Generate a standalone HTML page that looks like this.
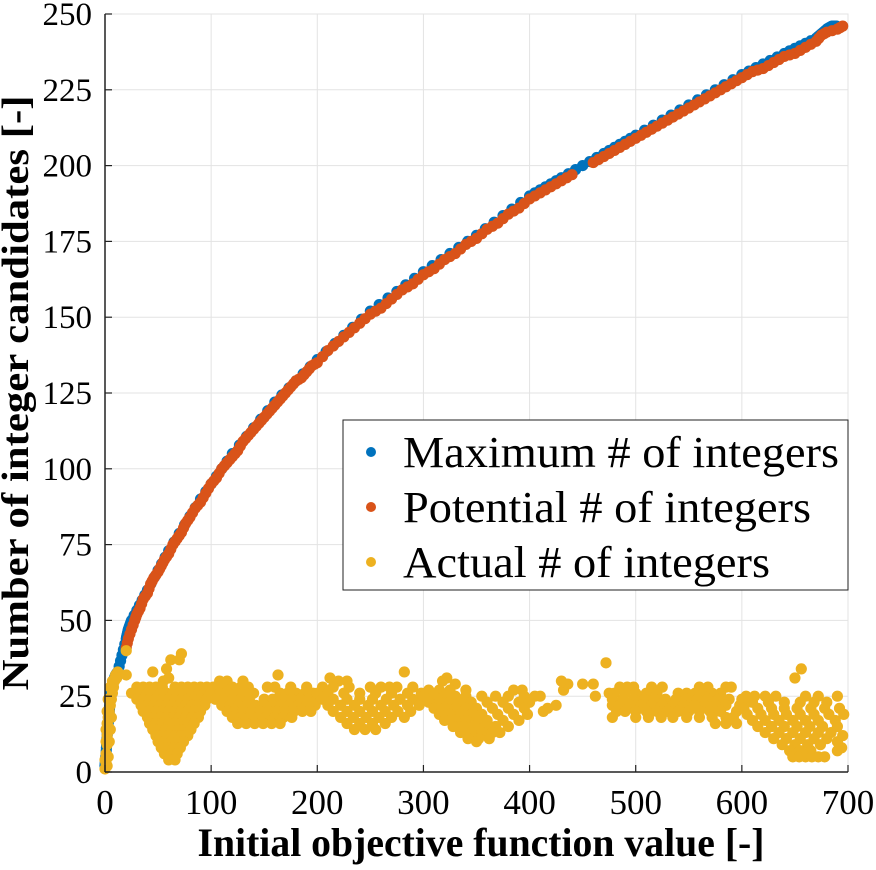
<!DOCTYPE html>
<html><head><meta charset="utf-8"><style>
html,body{margin:0;padding:0;background:#fff;}
svg{display:block;font-family:"Liberation Serif",serif;}
</style></head><body>
<svg id="chart" width="876" height="870" viewBox="0 0 876 870">
<g id="grid"></g>
<g id="marks"></g>
<g id="axes"></g>
<text x="481" y="856" text-anchor="middle" font-size="40" font-weight="bold" textLength="567" lengthAdjust="spacingAndGlyphs">Initial objective function value [-]</text>
<text transform="translate(28,393) rotate(-90)" text-anchor="middle" font-size="38" font-weight="bold" textLength="595" lengthAdjust="spacingAndGlyphs">Number of integer candidates [-]</text>
<g>
<rect x="343" y="420" width="505" height="170" fill="#fff" stroke="#222" stroke-width="1"/>
<g><circle cx="371" cy="452" r="5" fill="#0072BD"/><text x="403" y="467" font-size="44" textLength="436" lengthAdjust="spacingAndGlyphs">Maximum # of integers</text></g>
<g><circle cx="371" cy="507" r="5" fill="#D95319"/><text x="403" y="522" font-size="44" textLength="408" lengthAdjust="spacingAndGlyphs">Potential # of integers</text></g>
<g><circle cx="371" cy="562" r="5" fill="#EDB120"/><text x="403" y="577" font-size="44" textLength="367" lengthAdjust="spacingAndGlyphs">Actual # of integers</text></g>
</g>
</svg>
<script>
const xTicks=[0,100,200,300,400,500,600,700];
const yTicks=[0,25,50,75,100,125,150,175,200,225,250];
const redX=[20,22,25,28,30,33,36,40,43,46,50,53,56,60,64,68,72,76,80,85,90,95,100,105,110,115,120,125,130,135,140,145,150,155,160,165,170,175,180,185,190,195,200,210,220,230,240,250,260,270,280,290,300,310,320,330,340,350,360,370,380,390,400,410,420,430,440,460,470,480,490,500,510,520,530,540,550,560,570,580,590,600,610,620,630,640,650,660,670,675,680,690,695];
const redY=[41,44,47,50,52,54,57,59,62,64,66,68,70,72,75,77,79,82,84,87,89,92,95,97,100,102,104,106,109,111,113,115,117,119,121,123,125,127,129,130,132,134,135,139,142,145,148,151,153,156,159,161,164,166,169,171,174,176,179,181,184,186,189,191,193,195,197,201,203,205,207,209,211,213,215,217,219,221,223,225,227,229,231,232,234,236,237,239,241,243,244,245,246];
const blueX=[0,1,2,3,4,5,6,8,10,12,20,22,25,40,60,90,120,160,200,250,300,350,400,430,470,500,550,600,640,670,680,685,690];
const blueY=[2,6,12,16,20,24,27,30,32,33,44,47,50,60,73,90,105,122,136,152,165,177,190,196,204,210,220,230,237,242,245,246,246];
const yellow=[[0,1],[1,3],[1,6],[2,9],[2,12],[3,15],[3,18],[4,20],[5,22],[6,24],[7,26],[8,28],[9,30],[10,32],[12,33],[2,2],[3,5],[4,10],[5,14],[6,18],[1,10],[2,16],[4,24],[7,30],[0,4],[1,14],[2,20],[3,24],[5,28],[11,31],
[20,40],[20,32],[25,26],[45,33],[62,37],[58,34],[72,39],[70,37],[60,31],[55,30],
[30,28],[36,28],[42,28],[48,28],[54,28],[66,28],[72,28],[78,28],[84,28],[90,28],[96,28],[102,28],
[28,26],[34,26],[40,26],[46,26],[52,26],[58,26],[64,26],[70,26],[76,26],[82,26],[88,26],[94,26],[100,26],
[30,24],[36,24],[42,24],[48,24],[54,24],[60,24],[66,24],[72,24],[78,24],[84,24],[90,24],[96,24],
[34,22],[40,22],[46,22],[52,22],[58,22],[64,22],[70,22],[76,22],[82,22],[88,22],[94,22],
[36,20],[42,20],[48,20],[54,20],[60,20],[66,20],[72,20],[78,20],[84,20],[90,20],
[40,18],[46,18],[52,18],[58,18],[64,18],[70,18],[76,18],[82,18],[88,18],
[42,16],[48,16],[54,16],[60,16],[66,16],[72,16],[78,16],[84,16],
[45,14],[51,14],[57,14],[63,14],[69,14],[75,14],[81,14],
[48,12],[54,12],[60,12],[66,12],[72,12],[78,12],
[50,10],[56,10],[62,10],[68,10],[74,10],[53,8],[59,8],[65,8],[71,8],[56,6],[62,6],[68,6],[60,4],[66,4],
[108,30],[115,30],[130,30],[105,28],[112,28],[120,28],[128,28],[135,28],[160,28],[175,28],[190,28],
[100,26],[108,26],[116,26],[124,26],[132,26],[140,26],[165,26],[172,26],[180,26],[188,26],[196,26],
[104,24],[112,24],[120,24],[128,24],[136,24],[150,24],[158,24],[168,24],[176,24],[184,24],[192,24],[200,24],
[110,22],[118,22],[126,22],[134,22],[142,22],[150,22],[158,22],[166,22],[174,22],[182,22],[190,22],[198,22],
[115,20],[122,20],[130,20],[138,20],[146,20],[154,20],[162,20],[170,20],[178,20],[186,20],[194,20],
[120,18],[128,18],[136,18],[144,18],[152,18],[160,18],[168,18],[176,18],[125,16],[133,16],[141,16],[149,16],[157,16],[165,16],
[153,28],[163,32],[212,31],[220,30],[228,30],
[205,28],[215,28],[230,28],[250,28],[260,28],[275,28],[290,28],[200,26],[210,26],[225,26],[240,26],[255,26],[270,26],[285,26],[298,26],
[205,24],[215,24],[228,24],[240,24],[252,24],[265,24],[278,24],[290,24],[300,24],[210,22],[222,22],[235,22],[248,22],[260,22],[272,22],[285,22],[296,22],
[215,20],[228,20],[240,20],[252,20],[264,20],[276,20],[288,20],[222,18],[234,18],[246,18],[258,18],[270,18],[282,18],[228,16],[240,16],[252,16],[264,16],[235,14],[245,14],[255,14],[268,28],[282,33],
[318,30],[322,31],[330,29],[305,27],[315,27],[325,27],[340,27],[385,27],[393,27],
[300,25],[310,25],[320,25],[330,25],[340,25],[355,25],[368,25],[380,25],[395,25],[405,25],
[305,23],[315,23],[325,23],[335,23],[345,23],[360,23],[375,23],[390,23],[400,23],
[310,21],[320,21],[330,21],[340,21],[350,21],[365,21],[380,21],[395,21],
[315,19],[325,19],[335,19],[345,19],[355,19],[370,19],[385,19],[398,19],
[320,17],[330,17],[340,17],[350,17],[360,17],[375,17],[390,17],[328,15],[338,15],[348,15],[358,15],[368,15],[380,15],
[335,13],[345,13],[355,13],[365,13],[372,13],[342,11],[352,11],[362,11],[350,10],
[410,25],[413,20],[417,21],[425,22],[432,27],[436,29],[430,30],[472,36],[450,29],[460,29],[462,25],[475,26],[478,22],[482,20],[478,18],
[485,28],[492,28],[498,28],[515,28],[525,28],[560,28],[568,28],[585,28],[590,28],
[480,26],[490,26],[500,26],[510,26],[520,26],[540,26],[548,26],[556,26],[564,26],[572,26],[580,26],
[478,24],[488,24],[498,24],[508,24],[518,24],[528,24],[538,24],[548,24],[558,24],[568,24],[578,24],[588,24],[600,24],
[485,22],[495,22],[505,22],[515,22],[525,22],[535,22],[545,22],[555,22],[565,22],[575,22],[585,22],[598,22],
[490,20],[500,20],[510,20],[520,20],[530,20],[540,20],[550,20],[560,20],[570,20],[580,20],[595,20],
[500,18],[512,18],[524,18],[535,18],[548,18],[560,18],[572,18],[585,18],[592,18],[575,16],[585,16],[595,16],
[604,25],[612,25],[622,25],[632,25],[660,25],[672,25],[690,25],[600,23],[610,23],[625,23],[640,23],[655,23],[668,23],[680,23],
[602,21],[615,21],[628,21],[640,21],[652,21],[665,21],[678,21],[692,21],[605,19],[618,19],[630,19],[642,19],[655,19],[668,19],[682,19],[696,19],
[610,17],[622,17],[635,17],[648,17],[660,17],[672,17],[688,17],[615,15],[628,15],[640,15],[652,15],[664,15],[676,15],[690,15],
[622,13],[635,13],[648,13],[660,13],[672,13],[684,13],[630,11],[642,11],[655,11],[668,11],[680,11],
[638,9],[650,9],[662,9],[674,9],[645,7],[655,7],[665,7],[690,7],[648,5],[654,5],[660,5],[666,5],[672,5],[678,5],
[656,34],[650,31],[694,8],[690,10],[695,12]];

const X0=105,X1=848,Y0=772,Y1=14,R=5.6;
function sx(v){return X0+(v/700)*(X1-X0);}
function sy(v){return Y0-(v/250)*(Y0-Y1);}
const NS='http://www.w3.org/2000/svg';
function mk(tag,parent,attrs){const e=document.createElementNS(NS,tag);for(const k in attrs)e.setAttribute(k,attrs[k]);parent.appendChild(e);return e;}
const grid=document.getElementById('grid'),axes=document.getElementById('axes'),marks=document.getElementById('marks');
xTicks.forEach(t=>{
  const l=mk('line',grid,{x1:sx(t),x2:sx(t),y1:Y1,y2:Y0,stroke:'#e3e3e3','stroke-width':1});
  
  
  mk('line',axes,{x1:sx(t),x2:sx(t),y1:Y0,y2:Y0-7,stroke:'#222','stroke-width':1.2});
  const tx=mk('text',axes,{x:sx(t),y:Y0+42,'text-anchor':'middle','font-size':35});
  tx.textContent=t;
  
  
});
yTicks.forEach(t=>{
  const l=mk('line',grid,{x1:X0,x2:X1,y1:sy(t),y2:sy(t),stroke:'#e3e3e3','stroke-width':1});
  
  
  mk('line',axes,{x1:X0,x2:X0+7,y1:sy(t),y2:sy(t),stroke:'#222','stroke-width':1.2});
  const tx=mk('text',axes,{x:X0-13,y:sy(t)+11,'text-anchor':'end','font-size':33});
  tx.textContent=t;
  
  
});
mk('rect',grid,{x:X0,y:Y1,width:X1-X0,height:Y0-Y1,fill:'none',stroke:'#e3e3e3','stroke-width':1});
mk('line',axes,{x1:X0,x2:X1,y1:Y0,y2:Y0,stroke:'#222','stroke-width':1.5});
mk('line',axes,{x1:X0,x2:X0,y1:Y1,y2:Y0,stroke:'#222','stroke-width':1.5});
for(let i=0;i<blueX.length-1;i++){
  const n=6;
  for(let k=0;k<n;k++){
    const x=blueX[i]+(blueX[i+1]-blueX[i])*k/n, y=blueY[i]+(blueY[i+1]-blueY[i])*k/n;
    const c=mk('circle',marks,{cx:sx(x),cy:sy(y),r:R,fill:'#0072BD'});
    
    
  }
}
redX.forEach((x,i)=>{
  const c=mk('circle',marks,{cx:sx(x),cy:sy(redY[i]),r:R,fill:'#D95319'});
  
  
});
for(let i=0;i<redX.length-1;i++){
  if(redX[i+1]-redX[i]>15) continue;
  const x=(redX[i]+redX[i+1])/2,y=(redY[i]+redY[i+1])/2;
  const c=mk('circle',marks,{cx:sx(x),cy:sy(y),r:R,fill:'#D95319'});
  
  
}
yellow.forEach(p=>{
  const c=mk('circle',marks,{cx:sx(p[0]),cy:sy(p[1]),r:R,fill:'#EDB120'});
  
  
});
</script>
</body></html>
